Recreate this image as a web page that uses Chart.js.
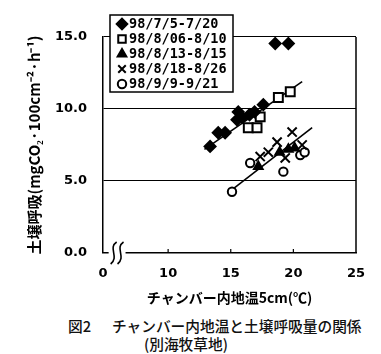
<!DOCTYPE html>
<html lang="ja">
<head>
<meta charset="UTF-8">
<title>チャンバー内地温と土壌呼吸量の関係</title>
<style>
    body {
        margin: 0;
        background: #fff;
        width: 381px;
        height: 354px;
        position: relative;
        overflow: hidden;
    }
    #chart-wrap {
        position: absolute;
        left: 0;
        top: 0;
        width: 381px;
        height: 306px;
    }
    .cap {
        position: absolute;
        font-family: 'Noto Sans CJK JP', sans-serif;
        font-size: 14.7px;
        font-weight: 500;
        line-height: 17px;
        color: #111;
        white-space: nowrap;
    }
</style>
</head>
<body>
<div id="chart-wrap">
    <canvas id="soil-chart" width="381" height="306"></canvas>
</div>
<div class="cap" style="left:68px; top:317px;">図2</div>
<div class="cap" style="left:112px; top:317px;">チャンバー内地温と土壌呼吸量の関係</div>
<div class="cap" style="left:144px; top:335px;">(別海牧草地)</div>

<script src="https://cdn.jsdelivr.net/npm/chart.js"></script>
<script>
    // x軸: 0〜10 は省略（波線）
    const xTicks = [4.8, 10, 15, 20, 25];
    const xTickLabels = ['0', '10', '15', '20', '25'];

    const seriesNames = ['98/7/5-7/20', '98/8/06-8/10', '98/8/13-8/15', '98/8/18-8/26', '98/9/9-9/21'];

    // 地温 (°C) と土壌呼吸
    const julyX = [13.35, 14.0, 14.55, 15.5, 15.6, 15.9, 16.5, 16.9, 17.6, 18.55, 19.6];
    const julyY = [7.4, 8.35, 8.35, 9.25, 9.8, 9.4, 9.6, 9.8, 10.3, 14.55, 14.55];
    const aug06X = [16.4, 17.1, 17.35, 18.8, 19.75];
    const aug06Y = [8.7, 8.7, 9.45, 10.8, 11.2];
    const aug13X = [17.2, 18.9, 19.6, 20.1];
    const aug13Y = [6.0, 7.0, 7.2, 7.3];
    const aug18X = [17.35, 18.0, 18.7, 19.35, 19.9, 20.7];
    const aug18Y = [6.7, 7.0, 7.7, 6.6, 8.4, 7.5];
    const sepX = [15.1, 16.55, 19.2, 20.55, 20.9];
    const sepY = [4.25, 6.25, 5.65, 6.8, 7.0];

    // 回帰直線の両端
    const upperFitX = [12.9, 20.7];
    const upperFitY = [7.2, 11.9];
    const lowerFitX = [14.8, 21.5];
    const lowerFitY = [4.2, 8.7];

    function toPoints(xs, ys) {
        return xs.map((x, i) => ({ x: x, y: ys[i] }));
    }

    const markStyles = [
        { pointStyle: 'rectRot', radius: 5.5, bg: '#000' },
        { pointStyle: 'rect', radius: 6.3, bg: '#fff' },
        { pointStyle: 'triangle', radius: 5, bg: '#000' },
        { pointStyle: 'crossRot', radius: 6.5, bg: '#000' },
        { pointStyle: 'circle', radius: 4.2, bg: '#fff' }
    ];
    const seriesData = [
        toPoints(julyX, julyY),
        toPoints(aug06X, aug06Y),
        toPoints(aug13X, aug13Y),
        toPoints(aug18X, aug18Y),
        toPoints(sepX, sepY)
    ];

    const datasets = seriesData.map((pts, i) => ({
        type: 'scatter',
        label: seriesNames[i],
        data: pts,
        pointStyle: markStyles[i].pointStyle,
        pointRadius: markStyles[i].radius,
        pointBackgroundColor: markStyles[i].bg,
        pointBorderColor: '#000',
        pointBorderWidth: 2
    }));
    // 直線は点の下に描く
    [[upperFitX, upperFitY], [lowerFitX, lowerFitY]].forEach(([xs, ys]) => {
        datasets.push({
            type: 'line',
            label: '',
            data: toPoints(xs, ys),
            borderColor: '#000',
            borderWidth: 1.6,
            pointRadius: 0,
            fill: false
        });
    });

    // 凡例（枠内）
    const boxLegend = {
        id: 'boxLegend',
        afterDraw(chart) {
            const ctx = chart.ctx;
            const left = 110, top = 15, w = 123, h = 77;
            ctx.save();
            ctx.fillStyle = '#fff';
            ctx.fillRect(left, top, w, h);
            ctx.strokeStyle = '#000';
            ctx.lineWidth = 1.5;
            ctx.strokeRect(left, top, w, h);
            ctx.font = 'bold 13.5px "DejaVu Sans Mono"';
            ctx.textBaseline = 'middle';
            for (let i = 0; i < seriesNames.length; i++) {
                const y = top + 9 + i * 15;
                const m = markStyles[i];
                ctx.fillStyle = m.bg;
                ctx.strokeStyle = '#000';
                ctx.lineWidth = 2;
                Chart.helpers.drawPoint(ctx, {
                    pointStyle: m.pointStyle,
                    radius: Math.min(m.radius, 5.3),
                    rotation: 0,
                    borderWidth: 2
                }, left + 12, y);
                ctx.fillStyle = '#000';
                ctx.fillText(seriesNames[i], left + 19, y + 0.5);
            }
            ctx.restore();
        }
    };

    // 右枠・x軸の内向き目盛・省略波線
    const frameAndBreak = {
        id: 'frameAndBreak',
        afterDraw(chart) {
            const ctx = chart.ctx;
            const area = chart.chartArea;
            const xs = chart.scales.x;
            ctx.save();
            ctx.strokeStyle = '#000';
            ctx.lineWidth = 1.5;
            ctx.beginPath();
            ctx.moveTo(area.right, area.top);
            ctx.lineTo(area.right, area.bottom);
            ctx.stroke();

            ctx.lineWidth = 1.2;
            xTicks.slice(1, -1).forEach(v => {
                const px = xs.getPixelForValue(v);
                ctx.beginPath();
                ctx.moveTo(px, area.bottom);
                ctx.lineTo(px, area.bottom - 4);
                ctx.stroke();
            });

            const b = area.bottom;
            const x1 = xs.getPixelForValue(5.25);
            const x2 = xs.getPixelForValue(6.6);
            ctx.fillStyle = '#fff';
            ctx.fillRect(x1, b - 3, x2 - x1, 6);
            ctx.lineWidth = 1.6;
            [5.65, 6.2].forEach(v => {
                const cx = xs.getPixelForValue(v);
                ctx.beginPath();
                ctx.moveTo(cx + 3, b - 11);
                ctx.bezierCurveTo(cx - 6, b - 5, cx + 6, b + 4, cx - 3, b + 11);
                ctx.stroke();
            });
            ctx.restore();
        }
    };

    new Chart(document.getElementById('soil-chart'), {
        type: 'scatter',
        data: { datasets: datasets },
        plugins: [frameAndBreak, boxLegend],
        options: {
            responsive: false,
            animation: false,
            devicePixelRatio: 1,
            layout: { padding: { top: 37, right: 25, left: 0, bottom: 0 } },
            plugins: {
                legend: { display: false },
                tooltip: { enabled: false }
            },
            scales: {
                x: {
                    type: 'linear',
                    min: 4.8,
                    max: 25,
                    afterFit(scale) { scale.height = 53; },
                    afterBuildTicks(scale) {
                        scale.ticks = xTicks.map(v => ({ value: v }));
                    },
                    ticks: {
                        padding: 13,
                        color: '#000',
                        font: { family: 'DejaVu Sans', weight: 'bold', size: 13 },
                        callback: (v, i) => xTickLabels[i]
                    },
                    grid: { drawOnChartArea: false, drawTicks: false },
                    border: { color: '#000', width: 1.5 },
                    title: {
                        display: true,
                        text: 'チャンバー内地温5cm(℃)',
                        color: '#000',
                        padding: { top: 4, bottom: 0 },
                        font: { family: 'Noto Sans CJK JP', weight: 'bold', size: 14 }
                    }
                },
                y: {
                    min: 0,
                    max: 15,
                    afterFit(scale) { scale.width = 103; },
                    ticks: {
                        stepSize: 5,
                        padding: 16,
                        color: '#000',
                        font: { family: 'DejaVu Sans', weight: 'bold', size: 13 },
                        callback: v => v.toFixed(1)
                    },
                    grid: { color: '#000', lineWidth: 1.1, drawTicks: false },
                    border: { color: '#000', width: 1.5 },
                    title: {
                        display: true,
                        text: '土壌呼吸(mgCO₂·100cm⁻²·h⁻¹)',
                        color: '#000',
                        padding: { top: 25, bottom: 0 },
                        font: { family: 'Noto Sans CJK JP', weight: 'bold', size: 15 }
                    }
                }
            }
        }
    });
</script>
</body>
</html>
